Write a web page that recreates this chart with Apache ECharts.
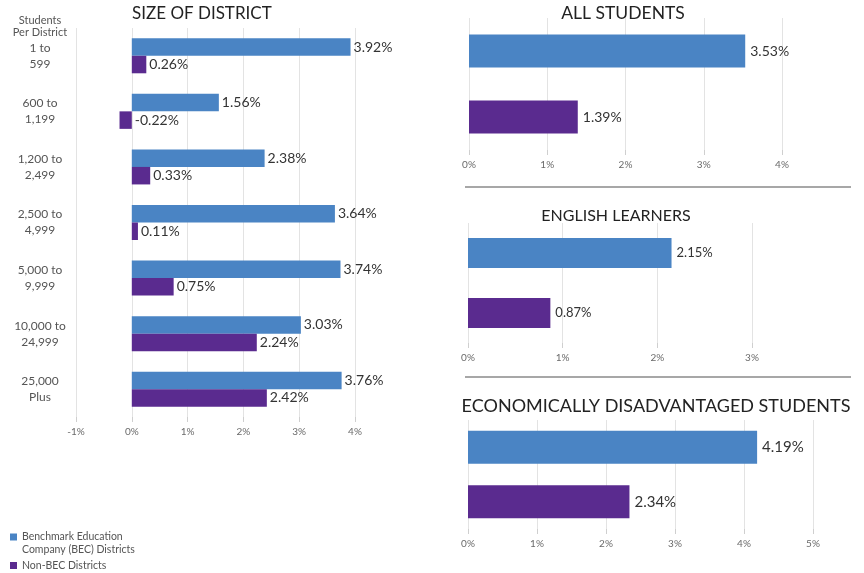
<!DOCTYPE html>
<html>
<head>
<meta charset="utf-8">
<script src="https://cdn.jsdelivr.net/npm/echarts@6/dist/echarts.min.js"></script>
<style>
html,body{margin:0;padding:0;background:#fff;}
#chart{width:864px;height:573px;}
</style>
</head>
<body>
<div id="chart"></div>
<script>
// ---- data ----
const sizeCategories = ['1 to\n599', '600 to\n1,199', '1,200 to\n2,499', '2,500 to\n4,999', '5,000 to\n9,999', '10,000 to\n24,999', '25,000\nPlus'];
const becBySize = [3.92, 1.56, 2.38, 3.64, 3.74, 3.03, 3.76];
const nonBecBySize = [0.26, -0.22, 0.33, 0.11, 0.75, 2.24, 2.42];
const groupCategories = ['BEC Districts', 'Non-BEC Districts'];
const allStudents = [3.53, 1.39];
const englishLearners = [2.15, 0.87];
const econDisadvantaged = [4.19, 2.34];
const seriesNames = ['Benchmark Education Company (BEC) Districts', 'Non-BEC Districts'];

const BLUE = '#4A84C4';
const PURPLE = '#5A2B8F';
const FONT = 'Lato, "DejaVu Sans", sans-serif';
const colors = [BLUE, PURPLE];

const chart = echarts.init(document.getElementById('chart'), null, {renderer: 'canvas'});

function valueAxis(gridIndex, min, max, labelSize) {
  return {
    type: 'value', gridIndex: gridIndex, min: min, max: max, interval: 1,
    axisLine: {show: false},
    axisTick: {show: true, length: 5, lineStyle: {color: '#cfcfcf'}},
    splitLine: {show: true, lineStyle: {color: '#e3e3e3', width: 1}},
    axisLabel: {formatter: '{value}%', color: '#6a6a6a', fontSize: labelSize, fontFamily: FONT, margin: 10}
  };
}
function catAxis(gridIndex, data, showLabel) {
  return {
    type: 'category', gridIndex: gridIndex, data: data, inverse: true,
    axisLine: {show: false, onZero: false},
    axisTick: {show: false},
    axisLabel: showLabel ? {
      show: true, align: 'center', margin: 36, color: '#555', fontSize: 12,
      lineHeight: 16, fontFamily: FONT
    } : {show: false}
  };
}
function groupSeries(idx, values, barW, labelSize) {
  return {
    type: 'bar', name: 'g' + idx, xAxisIndex: idx, yAxisIndex: idx,
    barWidth: barW,
    data: values.map((v, i) => ({value: v, itemStyle: {color: colors[i]}})),
    label: {show: true, position: 'right', distance: 5, formatter: p => p.value.toFixed(2) + '%',
      color: '#333', fontSize: labelSize, fontFamily: FONT},
    silent: true
  };
}
const legendText = {fontSize: 10.5, color: '#555', lineHeight: 13, fontFamily: FONT};
const titleStyle = size => ({fontSize: size, fontWeight: 'normal', color: '#222', fontFamily: FONT});

const option = {
  animation: false,
  backgroundColor: '#fff',
  textStyle: {fontFamily: FONT},
  title: [
    {text: 'SIZE OF DISTRICT', left: 132, top: 5, padding: 0, textStyle: titleStyle(17)},
    {text: 'Students\nPer District', left: 40, top: 14, padding: 0, textAlign: 'center', textStyle: {fontSize: 11, fontWeight: 'normal', color: '#555', lineHeight: 12, fontFamily: FONT}},
    {text: 'ALL STUDENTS', left: 623, top: 4, padding: 0, textAlign: 'center', textStyle: titleStyle(17.5)},
    {text: 'ENGLISH LEARNERS', left: 616, top: 208, padding: 0, textAlign: 'center', textStyle: titleStyle(16)},
    {text: 'ECONOMICALLY DISADVANTAGED STUDENTS', left: 656, top: 397, padding: 0, textAlign: 'center', textStyle: titleStyle(18)}
  ],
  legend: [
    {
      left: 10, top: 530, padding: 0, itemWidth: 7, itemHeight: 19, itemGap: 8,
      icon: 'path://M0,0L7,0L7,7L0,7Z M0,19',
      data: [seriesNames[0]],
      formatter: () => 'Benchmark Education\nCompany (BEC) Districts',
      textStyle: legendText, selectedMode: false
    },
    {
      left: 10, top: 559, padding: 0, itemWidth: 7, itemHeight: 7,
      icon: 'rect',
      data: [seriesNames[1]],
      textStyle: legendText, selectedMode: false
    }
  ],
  grid: [
    {left: 76, right: 509, top: 28, bottom: 156},
    {left: 469, right: 82, top: 18, bottom: 423},
    {left: 468, right: 112, top: 223, bottom: 230},
    {left: 468, right: 51, top: 420, bottom: 44}
  ],
  xAxis: [
    valueAxis(0, -1, 4, 10),
    valueAxis(1, 0, 4, 10),
    valueAxis(2, 0, 3, 10),
    valueAxis(3, 0, 5, 10)
  ],
  yAxis: [
    catAxis(0, sizeCategories, true),
    catAxis(1, groupCategories, false),
    catAxis(2, groupCategories, false),
    catAxis(3, groupCategories, false)
  ],
  series: [
    {type: 'bar', name: seriesNames[0], xAxisIndex: 0, yAxisIndex: 0, data: becBySize,
      itemStyle: {color: BLUE}, barGap: '0%', barCategoryGap: '37%',
      label: {show: true, position: 'right', distance: 3, formatter: p => p.value.toFixed(2) + '%',
        color: '#333', fontSize: 14, fontFamily: FONT}},
    {type: 'bar', name: seriesNames[1], xAxisIndex: 0, yAxisIndex: 0,
      data: nonBecBySize,
      itemStyle: {color: PURPLE}, barGap: '0%', barCategoryGap: '37%',
      label: {show: true, position: 'right', distance: 3, formatter: p => p.value.toFixed(2) + '%',
        color: '#333', fontSize: 14, fontFamily: FONT}},
    groupSeries(1, allStudents, 33, 14),
    groupSeries(2, englishLearners, 30, 13),
    groupSeries(3, econDisadvantaged, 33, 15)
  ],
  graphic: [
    {type: 'line', shape: {x1: 465, y1: 187, x2: 851, y2: 187}, style: {stroke: '#8a8a8a', lineWidth: 1.5}},
    {type: 'line', shape: {x1: 465, y1: 377, x2: 851, y2: 377}, style: {stroke: '#8a8a8a', lineWidth: 1.5}}
  ]
};
chart.setOption(option);
</script>
</body>
</html>
